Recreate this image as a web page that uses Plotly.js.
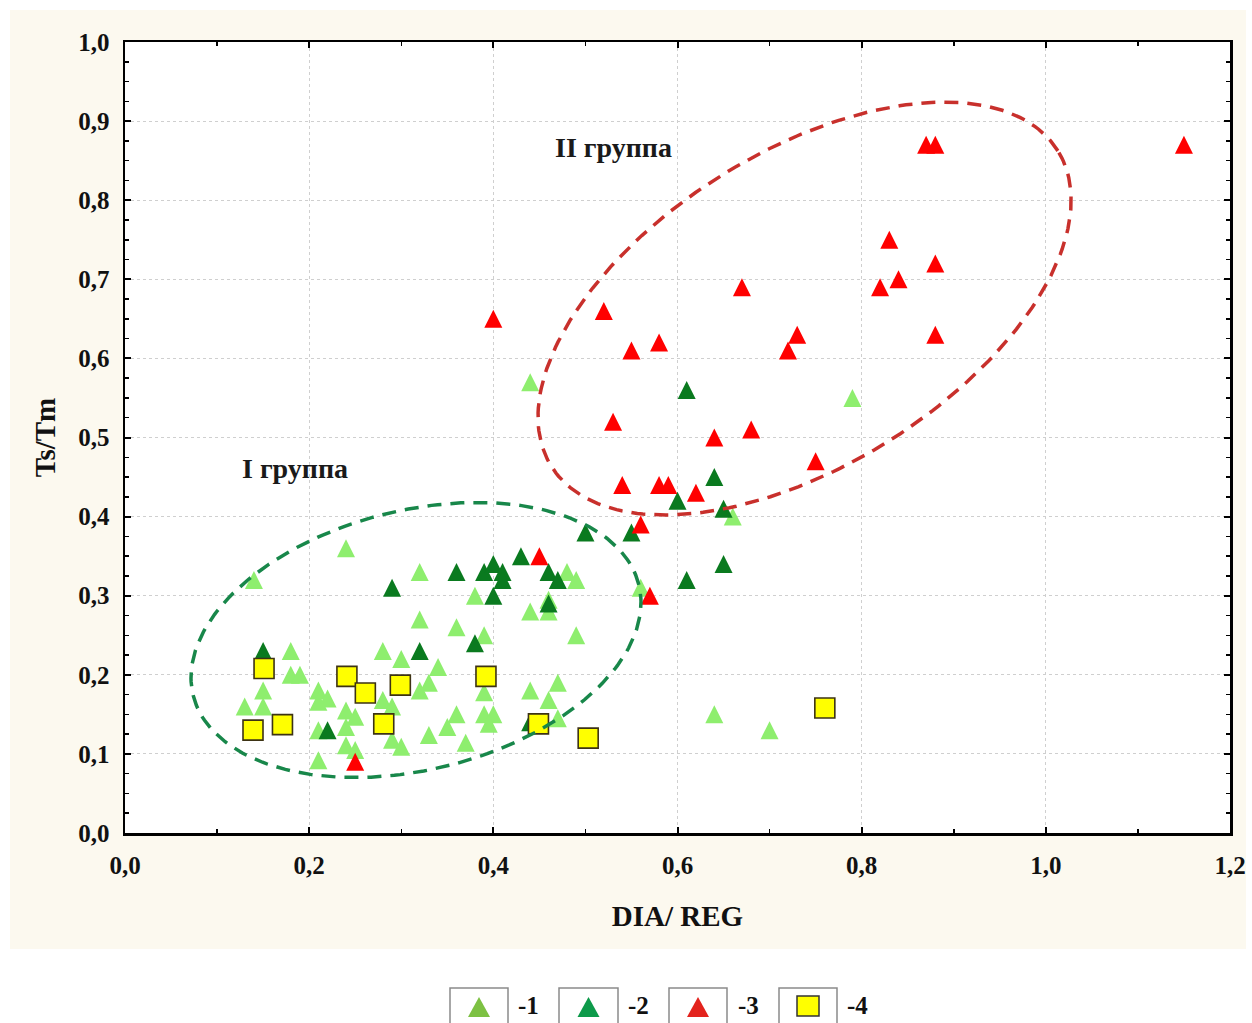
<!DOCTYPE html>
<html>
<head>
<meta charset="utf-8">
<script src="https://cdn.plot.ly/plotly-3.0.1.min.js"></script>
<style>
html,body{margin:0;padding:0;background:#ffffff;}
#chart{width:1252px;height:1023px;}
</style>
</head>
<body>
<div id="chart"></div>
<script>
// ---- Data ----
// Series 1 (light green triangles)
const s1x = [0.24,0.14,0.32,0.32,0.18,0.18,0.19,0.28,0.30,0.15,0.21,0.22,0.21,0.13,0.15,0.21,0.24,0.25,0.24,0.28,0.29,0.29,0.30,0.24,0.25,0.21,0.38,0.48,0.49,0.46,0.44,0.46,0.56,0.49,0.36,0.39,0.34,0.33,0.32,0.39,0.44,0.47,0.46,0.47,0.36,0.35,0.39,0.40,0.395,0.33,0.37,0.44,0.79,0.66,0.64,0.70];
const s1y = [0.36,0.32,0.33,0.27,0.23,0.20,0.20,0.23,0.22,0.18,0.18,0.17,0.166,0.16,0.16,0.13,0.155,0.147,0.134,0.168,0.16,0.118,0.109,0.111,0.105,0.092,0.30,0.33,0.32,0.295,0.28,0.28,0.31,0.25,0.26,0.25,0.21,0.19,0.18,0.178,0.18,0.19,0.168,0.145,0.15,0.134,0.15,0.15,0.138,0.124,0.114,0.57,0.55,0.40,0.15,0.13];
// Series 2 (dark green triangles)
const s2x = [0.15,0.29,0.22,0.32,0.36,0.39,0.40,0.41,0.41,0.40,0.38,0.43,0.46,0.47,0.46,0.44,0.50,0.55,0.61,0.65,0.60,0.64,0.65,0.61];
const s2y = [0.23,0.31,0.13,0.23,0.33,0.33,0.34,0.33,0.32,0.30,0.24,0.35,0.33,0.32,0.29,0.14,0.38,0.38,0.32,0.34,0.42,0.45,0.41,0.56];
// Series 3 (red triangles)
const s3x = [1.15,0.87,0.88,0.83,0.84,0.82,0.88,0.88,0.67,0.73,0.72,0.52,0.40,0.55,0.58,0.53,0.64,0.68,0.75,0.54,0.58,0.59,0.62,0.56,0.45,0.57,0.25];
const s3y = [0.87,0.87,0.87,0.75,0.70,0.69,0.72,0.63,0.69,0.63,0.61,0.66,0.65,0.61,0.62,0.52,0.50,0.51,0.47,0.44,0.44,0.44,0.43,0.39,0.35,0.30,0.09];
// Series 4 (yellow squares)
const s4x = [0.151,0.241,0.261,0.299,0.139,0.171,0.281,0.392,0.449,0.503,0.76];
const s4y = [0.208,0.198,0.177,0.187,0.130,0.137,0.138,0.198,0.138,0.120,0.158];

const xTickVals = [0,0.2,0.4,0.6,0.8,1.0,1.2];
const yTickVals = [0,0.1,0.2,0.3,0.4,0.5,0.6,0.7,0.8,0.9,1.0];
const legendNames = ['-1','-2','-3','-4'];
const groupLabels = ['I группа','II группа'];
const xTitle = 'DIA/ REG';
const yTitle = 'Ts/Tm';

// ---- Geometry ----
const W = 1252, H = 1023;
const M = {l:125, r:22, t:42, b:190};
const XR = [0, 1.2], YR = [0, 1.0];
const pw = W - M.l - M.r, ph = H - M.t - M.b;
const kx = pw / (XR[1]-XR[0]), ky = ph / (YR[1]-YR[0]);
const pX = px => (px - M.l) / pw;          // pixel -> paper x
const pY = py => (H - M.b - py) / ph;      // pixel -> paper y

function ellipse(cx, cy, aPx, bPx, deg, n) {
  const xs = [], ys = [];
  const th = deg * Math.PI / 180;
  for (let i = 0; i <= n; i++) {
    const t = 2 * Math.PI * i / n;
    const X = aPx*Math.cos(t)*Math.cos(th) - bPx*Math.sin(t)*Math.sin(th);
    const Y = aPx*Math.cos(t)*Math.sin(th) + bPx*Math.sin(t)*Math.cos(th);
    xs.push(cx + X/kx); ys.push(cy + Y/ky);
  }
  return {xs, ys};
}
const eG = ellipse(0.316, 0.244, 229.6, 129.7, 13.95, 240);
const eR = ellipse(0.738, 0.663, 298.4, 157.0, 31.9, 240);

const SERIF = 'Liberation Serif, Times New Roman, serif';
const tri = {symbol:'arrow-down', angle:180, standoff:9, size:18, line:{width:0}};

const traces = [
  {x:s1x, y:s1y, type:'scatter', mode:'markers', name:legendNames[0], marker:Object.assign({}, tri, {color:'#8eee6e'})},
  {x:s2x, y:s2y, type:'scatter', mode:'markers', name:legendNames[1], marker:Object.assign({}, tri, {color:'#0a7a1f'})},
  {x:s3x, y:s3y, type:'scatter', mode:'markers', name:legendNames[2], marker:Object.assign({}, tri, {color:'#ff0000'})},
  {x:s4x, y:s4y, type:'scatter', mode:'markers', name:legendNames[3], marker:{symbol:'square', size:20, color:'#ffff00', line:{color:'#3d3314', width:1.6}}},
  {x:eG.xs, y:eG.ys, type:'scatter', mode:'lines', hoverinfo:'skip', showlegend:false, line:{color:'#18874a', width:3.5, dash:'14px,9px'}},
  {x:eR.xs, y:eR.ys, type:'scatter', mode:'lines', hoverinfo:'skip', showlegend:false, line:{color:'#c8302c', width:3.5, dash:'14px,9px'}}
];

// ---- Legend (boxed symbols at the bottom) ----
const boxes = [[450,508],[559,618],[669,727],[779,837]];
const legColors = ['#7dc143','#0d9a4a','#e3231d','#ffff00'];
const labelX = [528,638,748,857];
const shapes = [
  {type:'rect', xref:'paper', yref:'paper', x0:pX(10), x1:pX(1246), y0:pY(949), y1:pY(10), fillcolor:'#fcf9ef', line:{width:0}, layer:'below'},
  {type:'rect', xref:'paper', yref:'paper', x0:0, x1:1, y0:0, y1:1, fillcolor:'#ffffff', line:{width:0}, layer:'below'}
];
const annotations = [];
boxes.forEach((b, i) => {
  shapes.push({type:'rect', xref:'paper', yref:'paper', x0:pX(b[0]), x1:pX(b[1]), y0:pY(1045), y1:pY(988), line:{color:'#8a8a8a', width:1.5}, fillcolor:'rgba(0,0,0,0)'});
  const c = (b[0]+b[1])/2;
  if (i < 3) {
    const path = 'M' + pX(c-11) + ',' + pY(1017) + ' L' + pX(c+11) + ',' + pY(1017) + ' L' + pX(c) + ',' + pY(997) + ' Z';
    shapes.push({type:'path', xref:'paper', yref:'paper', path:path, fillcolor:legColors[i], line:{width:0}});
  } else {
    shapes.push({type:'rect', xref:'paper', yref:'paper', x0:pX(c-11), x1:pX(c+11), y0:pY(1016), y1:pY(996), fillcolor:legColors[i], line:{color:'#333333', width:1.5}});
  }
  annotations.push({xref:'paper', yref:'paper', x:pX(labelX[i]), y:pY(1005), text:legendNames[i], showarrow:false, xanchor:'center', yanchor:'middle', font:{family:SERIF, size:25, weight:'bold', color:'#111'}});
});
annotations.push({xref:'x', yref:'y', x:0.185, y:0.461, text:groupLabels[0], showarrow:false, xanchor:'center', yanchor:'middle', font:{family:SERIF, size:28, weight:'bold', color:'#1a1a1a'}});
annotations.push({xref:'x', yref:'y', x:0.530, y:0.867, text:groupLabels[1], showarrow:false, xanchor:'center', yanchor:'middle', font:{family:SERIF, size:28, weight:'bold', color:'#1a1a1a'}});

const axisCommon = {
  showline:true, linecolor:'#000', linewidth:2.5, mirror:'allticks',
  ticks:'inside', ticklen:6, tickwidth:2, tickcolor:'#000',
  showgrid:true, gridcolor:'#cfcfcf', gridwidth:1, griddash:'dot',
  zeroline:false, tickformat:'.1f',
  tickfont:{family:SERIF, size:25, weight:'bold', color:'#111'},
  automargin:false, fixedrange:true
};

const layout = {
  width:W, height:H, margin:M, showlegend:false,
  paper_bgcolor:'#ffffff', plot_bgcolor:'#ffffff',
  separators:',.',
  xaxis:Object.assign({}, axisCommon, {
    range:XR, tickmode:'array', tickvals:xTickVals, ticklabelstandoff:8,
    minor:{dtick:0.1, tick0:0, ticks:'inside', ticklen:4, tickwidth:1.5, tickcolor:'#000', showgrid:false},
    title:{text:xTitle, standoff:28, font:{family:SERIF, size:29, weight:'bold', color:'#111'}}
  }),
  yaxis:Object.assign({}, axisCommon, {
    range:YR, tickmode:'array', tickvals:yTickVals, ticklabelstandoff:8,
    minor:{dtick:0.025, tick0:0, ticks:'inside', ticklen:4, tickwidth:1.5, tickcolor:'#000', showgrid:false},
    title:{text:yTitle, standoff:14, font:{family:SERIF, size:29, weight:'bold', color:'#111'}}
  }),
  shapes:shapes, annotations:annotations
};

Plotly.newPlot('chart', traces, layout, {displayModeBar:false, staticPlot:true});
</script>
</body>
</html>
